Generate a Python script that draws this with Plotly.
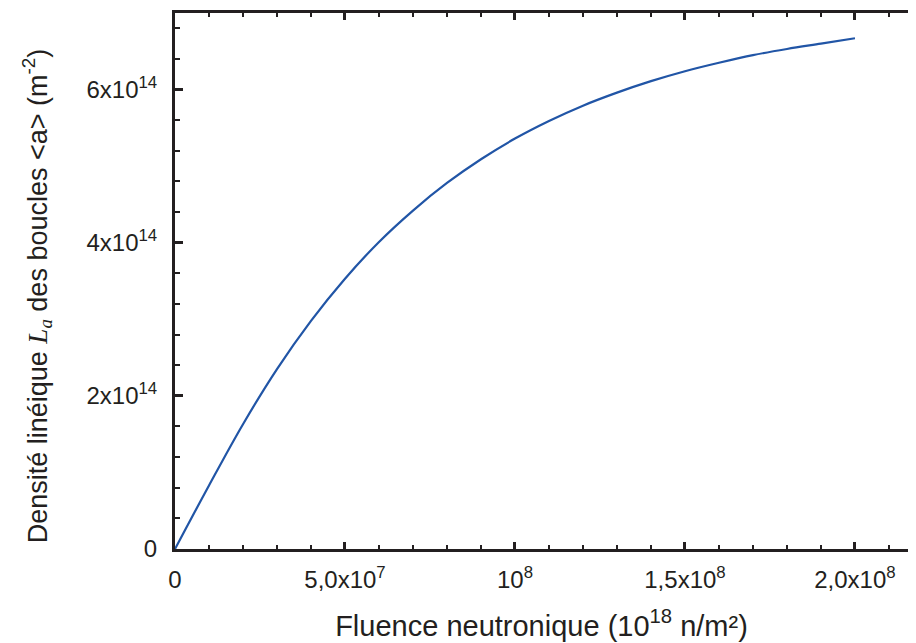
import plotly.graph_objects as go

# Fluence (10^18 n/m²) and linear density of <a> loops (m^-2)
fluence = [0, 1e7, 2e7, 3e7, 4e7, 5e7, 6e7, 7e7, 8e7, 9e7, 1e8,
           1.1e8, 1.2e8, 1.3e8, 1.4e8, 1.5e8, 1.6e8, 1.7e8, 1.8e8, 1.9e8, 2e8]
density = [0, 0.83e14, 1.63e14, 2.35e14, 2.98e14, 3.53e14, 4.01e14, 4.42e14,
           4.78e14, 5.09e14, 5.36e14, 5.59e14, 5.79e14, 5.96e14, 6.11e14,
           6.24e14, 6.35e14, 6.45e14, 6.53e14, 6.60e14, 6.67e14]

x_tickvals = [0, 5e7, 1e8, 1.5e8, 2e8]
x_ticktext = ["0", "5,0x10<sup>7</sup>", "10<sup>8</sup>", "1,5x10<sup>8</sup>", "2,0x10<sup>8</sup>"]
x_minor = [1e7 * i for i in range(0, 22)]
y_tickvals = [0, 2e14, 4e14, 6e14]
y_ticktext = ["0", "2x10<sup>14</sup>", "4x10<sup>14</sup>", "6x10<sup>14</sup>"]
y_minor = [4e13 * i for i in range(0, 18)]

x_range = [0, 2.156e8]
y_range = [0, 7e14]

ink = "#231f20"
font_main = "Liberation Sans, Arial, sans-serif"

fig = go.Figure()
fig.add_trace(go.Scatter(
    x=fluence, y=density, mode="lines", line_shape="spline",
    line=dict(color="#2155a6", width=2.2), showlegend=False,
))

fig.update_layout(
    width=900, height=643,
    margin=dict(l=167, r=0, t=5, b=102),
    paper_bgcolor="white", plot_bgcolor="white",
    font=dict(family=font_main, color=ink, size=24),
    xaxis=dict(
        range=x_range, showgrid=False, zeroline=False,
        showline=True, linecolor=ink, linewidth=3, mirror="ticks",
        ticks="inside", ticklen=7, tickwidth=3, tickcolor=ink,
        tickmode="array", tickvals=x_tickvals, ticktext=x_ticktext,
        tickfont=dict(size=24, color=ink), ticklabelstandoff=7,
        minor=dict(tickmode="array", tickvals=x_minor, ticks="inside",
                   ticklen=4, tickwidth=2, tickcolor=ink),
        title=dict(text="Fluence neutronique (10<sup>18</sup> n/m²)",
                   font=dict(size=29, color=ink), standoff=24),
        automargin=False,
    ),
    yaxis=dict(
        range=y_range, showgrid=False, zeroline=False,
        showline=True, linecolor=ink, linewidth=3,
        ticks="inside", ticklen=8, tickwidth=3, tickcolor=ink,
        tickmode="array", tickvals=y_tickvals, ticktext=y_ticktext,
        tickfont=dict(size=24, color=ink), ticklabelstandoff=10,
        minor=dict(tickmode="array", tickvals=y_minor, ticks="inside",
                   ticklen=5, tickwidth=2, tickcolor=ink),
        title=dict(
            text="Densité linéique <span style=\"font-family:'Liberation Serif',serif\"><i>L<sub>a</sub></i></span> des boucles &lt;a&gt; (m<sup>-2</sup>)&nbsp;&nbsp;&nbsp;&nbsp;",
            font=dict(size=27, color=ink), standoff=32),
        automargin=False,
    ),
)

fig.write_html("out.html")
